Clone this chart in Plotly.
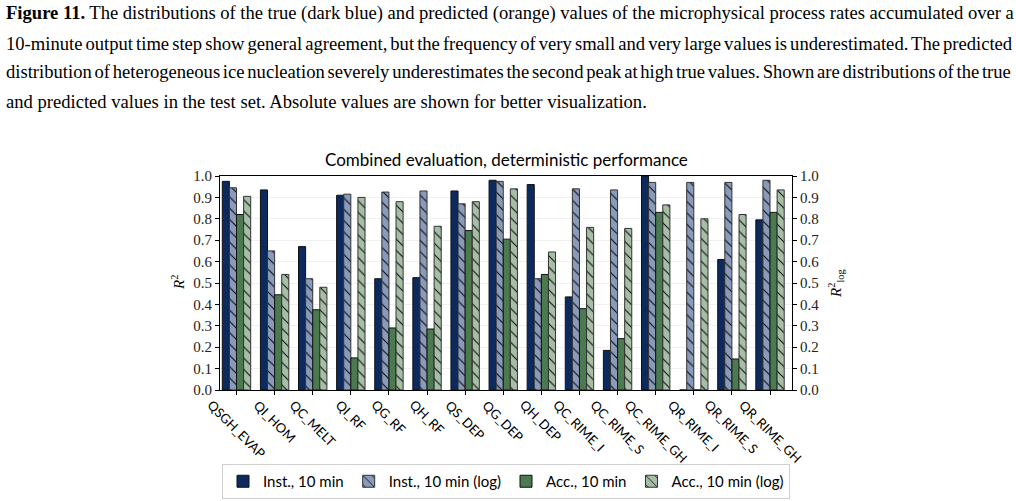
import plotly.graph_objects as go

categories = ["QSGH_EVAP", "QI_HOM", "QC_MELT", "QI_RF", "QG_RF", "QH_RF", "QS_DEP",
              "QG_DEP", "QH_DEP", "QC_RIME_I", "QC_RIME_S", "QC_RIME_GH",
              "QR_RIME_I", "QR_RIME_S", "QR_RIME_GH"]
inst = [0.975, 0.935, 0.67, 0.91, 0.52, 0.525, 0.93, 0.98, 0.96, 0.435, 0.185, 1.0, 0.0, 0.61, 0.795]
inst_log = [0.945, 0.65, 0.52, 0.915, 0.925, 0.93, 0.87, 0.975, 0.52, 0.94, 0.935, 0.97, 0.97, 0.97, 0.98]
acc = [0.82, 0.445, 0.375, 0.15, 0.29, 0.285, 0.745, 0.705, 0.54, 0.38, 0.24, 0.83, 0.0, 0.145, 0.83]
acc_log = [0.905, 0.54, 0.48, 0.90, 0.88, 0.765, 0.88, 0.94, 0.645, 0.76, 0.755, 0.865, 0.80, 0.82, 0.935]
series_names = ["Inst., 10 min", "Inst., 10 min (log)", "Acc., 10 min", "Acc., 10 min (log)"]
yticks = [0.0, 0.1, 0.2, 0.3, 0.4, 0.5, 0.6, 0.7, 0.8, 0.9, 1.0]

caption_lines = [
    "<b>Figure 11.</b> The distributions of the true (dark blue) and predicted (orange) values of the microphysical process rates accumulated over a",
    "10-minute output time step show general agreement, but the frequency of very small and very large values is underestimated. The predicted",
    "distribution of heterogeneous ice nucleation severely underestimates the second peak at high true values. Shown are distributions of the true",
    "and predicted values in the test set. Absolute values are shown for better visualization.",
]
caption_word_spacing = [-0.1, -1.6, -1.9, 0.0]

W, H = 1016, 501
L, R, T, B = 220, 792, 176, 390

def px(x):
    return (x - L) / (R - L)

def py(y):
    return (B - y) / (B - T)

colors = ["#0c2a5e", "#8a9aba", "#4b7a50", "#a6bea6"]
hatched = [False, True, False, True]
data = [inst, inst_log, acc, acc_log]

fig = go.Figure()
for name, vals, col, hat in zip(series_names, data, colors, hatched):
    marker = dict(color=col, line=dict(color="#111111" if not hat else "#333333", width=1))
    if hat:
        marker["pattern"] = dict(shape="\\", fgcolor="#000000", bgcolor=col, size=8, solidity=0.12, fillmode="replace")
    fig.add_trace(go.Bar(x=categories, y=vals, name=name, marker=marker))

serif = "Liberation Serif"
sans = "Lato"

fig.update_layout(
    width=W, height=H,
    margin=dict(l=L, r=W - R, t=T, b=H - B, autoexpand=False),
    paper_bgcolor="white", plot_bgcolor="white",
    barmode="group", bargap=0.255, bargroupgap=0,
    showlegend=True,
    legend=dict(orientation="h", x=0.5, xanchor="center", y=py(464), yanchor="top",
                bordercolor="#d0d0d0", borderwidth=1, font=dict(family=sans, size=15, color="black"),
                itemwidth=30, tracegroupgap=0),
    xaxis=dict(range=[-0.433, 14.577], showticklabels=False, ticks="outside", ticklen=4,
               tickcolor="black", showline=True, linecolor="black", linewidth=1, mirror=True,
               showgrid=False, zeroline=False),
    yaxis=dict(range=[0, 1], tickvals=yticks, ticktext=[f"{v:.1f}" for v in yticks],
               ticks="outside", ticklen=4, tickcolor="black", showline=True, linecolor="black",
               linewidth=1, showgrid=True, gridcolor="rgba(0,0,0,0.06)", zeroline=False,
               tickfont=dict(family=serif, size=15, color="#222")),
    yaxis2=dict(range=[0, 1], overlaying="y", side="right", anchor="x", tickvals=yticks,
                ticktext=[f"{v:.1f}" for v in yticks], ticks="outside", ticklen=4, tickcolor="black",
                showline=True, linecolor="black", linewidth=1, showgrid=False, zeroline=False,
                tickfont=dict(family=serif, size=15, color="#222")),
)
fig.add_trace(go.Scatter(x=categories, y=inst, yaxis="y2", mode="markers", marker=dict(opacity=0),
                         showlegend=False, hoverinfo="skip"))

ann = []
for c in categories:
    ann.append(dict(x=c, y=0, xref="x", yref="paper", text=c, textangle=45, showarrow=False,
                    xanchor="center", yanchor="top", yshift=-4,
                    font=dict(family=sans, size=13, color="black")))
ann.append(dict(x=0.5, y=py(159), xref="paper", yref="paper", text="Combined evaluation, deterministic performance",
                showarrow=False, xanchor="center", yanchor="middle", font=dict(family=sans, size=17, color="black")))
ann.append(dict(x=px(178), y=py(283), xref="paper", yref="paper", text="<i>R</i><sup>2</sup>", textangle=-90,
                showarrow=False, xanchor="center", yanchor="middle", font=dict(family=serif, size=15, color="black")))
ann.append(dict(x=px(836), y=py(283), xref="paper", yref="paper", text="<i>R</i><sup>2</sup><sub>log</sub>", textangle=-90,
                showarrow=False, xanchor="center", yanchor="middle", font=dict(family=serif, size=15, color="black")))
line_y = [13, 43, 72, 101]
for t, yy, ws in zip(caption_lines, line_y, caption_word_spacing):
    ann.append(dict(x=px(4), y=py(yy), xref="paper", yref="paper",
                    text=f'<span style="word-spacing:{ws}px">{t}</span>', showarrow=False,
                    xanchor="left", yanchor="middle", font=dict(family=serif, size=18.6, color="black")))
fig.update_layout(annotations=ann)

fig.write_html("out.html")
